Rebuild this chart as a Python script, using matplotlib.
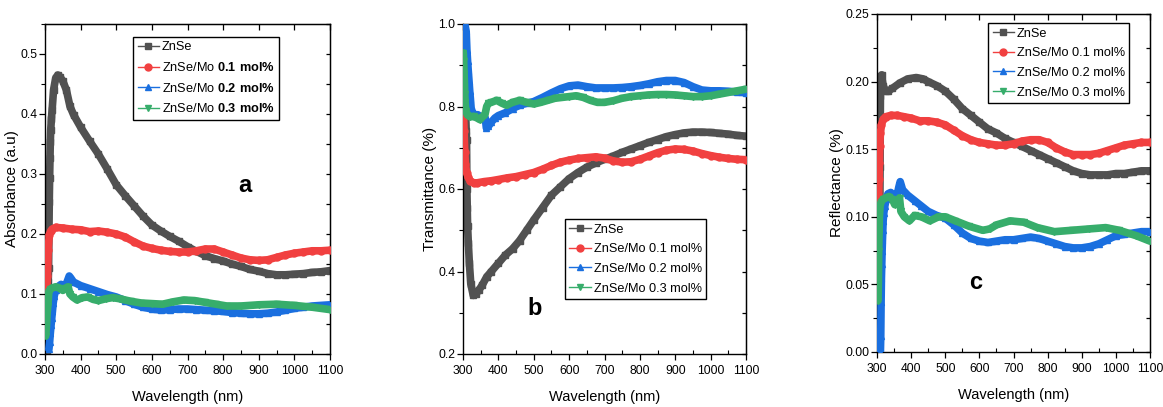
import matplotlib
matplotlib.use("Agg")
import matplotlib.pyplot as plt
from matplotlib.ticker import MultipleLocator, FormatStrFormatter

plt.rcParams['font.family'] = ['Liberation Sans', 'DejaVu Sans']
plt.rcParams['mathtext.fontset'] = 'custom'
plt.rcParams['mathtext.rm'] = 'Liberation Sans'
plt.rcParams['mathtext.bf'] = 'Liberation Sans:bold'

# ---------------- data ----------------
labels_a = ['ZnSe', r'ZnSe/Mo $\mathbf{0.1\ mol\%}$', r'ZnSe/Mo $\mathbf{0.2\ mol\%}$', r'ZnSe/Mo $\mathbf{0.3\ mol\%}$']
labels_bc = ['ZnSe', 'ZnSe/Mo 0.1 mol%', 'ZnSe/Mo 0.2 mol%', 'ZnSe/Mo 0.3 mol%']

# (a) Absorbance
znse_a_wl = [305, 309, 310, 312, 313, 314, 315, 316, 318, 320, 324, 330, 336, 342, 350, 360, 370, 380, 400, 425, 450, 475, 500, 525, 550, 575, 600, 625, 650, 675, 700, 725, 750, 775, 800, 825, 850, 875, 900, 925, 950, 975, 1000, 1025, 1050, 1075, 1100]
znse_a = [0.0, 0.12, 0.143, 0.254, 0.293, 0.327, 0.354, 0.373, 0.392, 0.407, 0.44, 0.46, 0.465, 0.462, 0.455, 0.44, 0.413, 0.399, 0.378, 0.355, 0.333, 0.308, 0.282, 0.264, 0.247, 0.23, 0.215, 0.205, 0.196, 0.188, 0.179, 0.171, 0.164, 0.159, 0.155, 0.15, 0.146, 0.141, 0.138, 0.134, 0.132, 0.132, 0.133, 0.134, 0.136, 0.137, 0.139]
mo1_a_wl = [301, 303, 305, 307, 309, 312, 316, 320, 330, 350, 375, 400, 425, 450, 475, 500, 525, 550, 575, 600, 625, 650, 675, 700, 725, 750, 775, 800, 825, 850, 875, 900, 925, 950, 975, 1000, 1025, 1050, 1075, 1100]
mo1_a = [0.046, 0.068, 0.107, 0.13, 0.174, 0.199, 0.205, 0.208, 0.211, 0.21, 0.208, 0.207, 0.204, 0.205, 0.203, 0.2, 0.195, 0.187, 0.18, 0.176, 0.173, 0.171, 0.17, 0.17, 0.172, 0.175, 0.175, 0.17, 0.165, 0.16, 0.157, 0.156, 0.157, 0.161, 0.165, 0.168, 0.17, 0.172, 0.172, 0.173]
mo2_a_wl = [311, 313, 315, 317, 319, 321, 323, 326, 330, 338, 345, 352, 360, 368, 372, 380, 400, 425, 450, 475, 500, 525, 550, 575, 600, 625, 650, 675, 700, 725, 750, 775, 800, 825, 850, 875, 900, 925, 950, 975, 1000, 1025, 1050, 1075, 1100]
mo2_a = [0.008, 0.02, 0.035, 0.048, 0.06, 0.072, 0.085, 0.097, 0.107, 0.113, 0.116, 0.114, 0.117, 0.13, 0.127, 0.12, 0.114, 0.109, 0.104, 0.099, 0.095, 0.089, 0.083, 0.078, 0.075, 0.073, 0.074, 0.075, 0.075, 0.074, 0.073, 0.072, 0.071, 0.069, 0.068, 0.067, 0.067, 0.068, 0.07, 0.073, 0.076, 0.078, 0.08, 0.081, 0.082]
mo3_a_wl = [302, 304, 306, 308, 311, 315, 320, 330, 340, 350, 358, 365, 370, 378, 390, 405, 420, 435, 450, 470, 490, 510, 540, 570, 600, 630, 660, 690, 720, 750, 780, 810, 850, 900, 950, 1000, 1050, 1100]
mo3_a = [0.03, 0.046, 0.068, 0.08, 0.105, 0.108, 0.11, 0.112, 0.11, 0.106, 0.11, 0.112, 0.1, 0.095, 0.09, 0.094, 0.095, 0.091, 0.089, 0.092, 0.094, 0.092, 0.088, 0.085, 0.084, 0.083, 0.087, 0.09, 0.089, 0.086, 0.083, 0.08, 0.08, 0.082, 0.083, 0.081, 0.078, 0.074]

# (b) Transmittance
znse_b_wl = [301, 304, 307, 309, 310, 311, 312, 313, 315, 318, 322, 329, 336, 345, 355, 367, 380, 400, 420, 440, 460, 480, 500, 525, 550, 575, 600, 625, 650, 675, 700, 725, 750, 775, 800, 825, 850, 875, 900, 925, 950, 975, 1000, 1025, 1050, 1075, 1100]
znse_b = [1.0, 0.9, 0.8, 0.74, 0.72, 0.6, 0.555, 0.51, 0.47, 0.42, 0.37, 0.342, 0.345, 0.355, 0.368, 0.387, 0.4, 0.42, 0.44, 0.455, 0.475, 0.5, 0.525, 0.555, 0.585, 0.605, 0.625, 0.64, 0.653, 0.663, 0.672, 0.68, 0.689, 0.697, 0.705, 0.713, 0.72, 0.727, 0.732, 0.736, 0.738, 0.738, 0.737, 0.735, 0.733, 0.73, 0.728]
mo1_b_wl = [301, 303, 305, 307, 310, 314, 320, 330, 340, 360, 380, 400, 425, 450, 475, 500, 525, 550, 575, 600, 625, 650, 675, 700, 725, 750, 775, 800, 825, 850, 875, 900, 925, 950, 975, 1000, 1025, 1050, 1075, 1100]
mo1_b = [0.8, 0.74, 0.69, 0.66, 0.64, 0.63, 0.62, 0.615, 0.615, 0.618, 0.62, 0.623, 0.627, 0.63, 0.635, 0.64, 0.648, 0.657, 0.665, 0.67, 0.674, 0.676, 0.678, 0.675, 0.668, 0.665, 0.666, 0.672, 0.68, 0.688, 0.694, 0.697, 0.696, 0.692, 0.686, 0.681, 0.677, 0.674, 0.672, 0.671]
mo2_b_wl = [305, 309, 311, 313, 315, 317, 319, 321, 323, 327, 334, 342, 350, 358, 363, 366, 372, 380, 390, 400, 420, 440, 460, 480, 500, 525, 550, 575, 600, 625, 650, 675, 700, 725, 750, 775, 800, 825, 850, 875, 900, 925, 950, 975, 1000, 1025, 1050, 1075, 1100]
mo2_b = [1.0, 0.982, 0.938, 0.91, 0.885, 0.862, 0.838, 0.818, 0.796, 0.785, 0.78, 0.78, 0.775, 0.773, 0.772, 0.748, 0.752, 0.762, 0.772, 0.778, 0.785, 0.795, 0.803, 0.808, 0.812, 0.822, 0.833, 0.843, 0.85, 0.852, 0.848, 0.845, 0.845, 0.845, 0.846, 0.848, 0.851, 0.855, 0.86, 0.863, 0.863, 0.858, 0.848, 0.84, 0.838, 0.838, 0.837, 0.835, 0.833]
mo3_b_wl = [301, 302, 303, 304, 305, 306, 308, 312, 320, 330, 340, 348, 355, 362, 367, 372, 380, 395, 410, 423, 440, 460, 480, 500, 520, 540, 560, 580, 600, 620, 640, 660, 680, 700, 725, 750, 775, 800, 825, 850, 875, 900, 925, 950, 975, 1000, 1025, 1050, 1075, 1100]
mo3_b = [0.93, 0.91, 0.88, 0.86, 0.83, 0.81, 0.79, 0.78, 0.775, 0.776, 0.772, 0.768, 0.775, 0.78, 0.8, 0.808, 0.81, 0.815, 0.808, 0.803, 0.81, 0.815, 0.81, 0.806, 0.81, 0.815, 0.82, 0.822, 0.824, 0.826, 0.822, 0.815, 0.81, 0.81, 0.814, 0.82, 0.824, 0.826, 0.828, 0.829, 0.829, 0.828, 0.826, 0.824, 0.824, 0.826, 0.83, 0.834, 0.838, 0.842]

# (c) Reflectance
znse_c_wl = [308, 309, 310, 311, 312, 314, 318, 325, 333, 345, 367, 390, 415, 435, 450, 475, 500, 525, 550, 575, 600, 625, 650, 675, 700, 725, 750, 775, 800, 825, 850, 875, 900, 925, 950, 975, 1000, 1025, 1050, 1075, 1100]
znse_c = [0.09, 0.137, 0.189, 0.198, 0.204, 0.205, 0.197, 0.193, 0.193, 0.195, 0.199, 0.202, 0.203, 0.202, 0.2, 0.197, 0.193, 0.187, 0.18, 0.175, 0.17, 0.165, 0.162, 0.158, 0.155, 0.152, 0.149, 0.146, 0.143, 0.14, 0.137, 0.134, 0.132, 0.131, 0.131, 0.131, 0.132, 0.132, 0.133, 0.134, 0.134]
mo1_c_wl = [303, 304, 305, 306, 307, 308, 310, 313, 318, 325, 340, 360, 380, 400, 425, 450, 475, 500, 525, 550, 575, 600, 625, 650, 675, 700, 725, 750, 775, 800, 825, 850, 875, 900, 925, 950, 975, 1000, 1025, 1050, 1075, 1100]
mo1_c = [0.07, 0.1, 0.115, 0.128, 0.14, 0.152, 0.162, 0.168, 0.172, 0.174, 0.175, 0.175, 0.174, 0.173, 0.171, 0.171, 0.17, 0.168, 0.164, 0.16, 0.157, 0.155, 0.154, 0.153, 0.153, 0.154, 0.156, 0.157, 0.157, 0.155, 0.151, 0.148, 0.146, 0.146, 0.146, 0.147, 0.149, 0.151, 0.153, 0.154, 0.155, 0.155]
mo2_c_wl = [310, 311, 312, 313, 314, 315, 316, 317, 318, 320, 323, 327, 332, 340, 350, 358, 364, 368, 375, 390, 410, 430, 450, 475, 500, 525, 550, 575, 600, 625, 650, 675, 700, 725, 750, 775, 800, 825, 850, 875, 900, 925, 950, 975, 1000, 1025, 1050, 1075, 1100]
mo2_c = [0.0, 0.012, 0.037, 0.055, 0.065, 0.075, 0.083, 0.09, 0.097, 0.103, 0.108, 0.113, 0.117, 0.118, 0.116, 0.115, 0.122, 0.126, 0.12, 0.116, 0.112, 0.108, 0.104, 0.101, 0.099, 0.094, 0.088, 0.084, 0.082, 0.081, 0.082, 0.083, 0.083, 0.084, 0.085, 0.084, 0.082, 0.08, 0.078, 0.077, 0.077, 0.078, 0.08, 0.083, 0.086, 0.087, 0.088, 0.089, 0.089]
mo3_c_wl = [303, 304, 305, 306, 307, 309, 312, 318, 325, 335, 345, 352, 360, 366, 370, 380, 395, 410, 430, 455, 480, 500, 530, 570, 610, 630, 650, 690, 730, 770, 820, 870, 920, 970, 1010, 1060, 1100]
mo3_c = [0.038, 0.052, 0.075, 0.088, 0.1, 0.108, 0.111, 0.113, 0.114, 0.115, 0.113, 0.109, 0.112, 0.114, 0.104, 0.1, 0.097, 0.101, 0.1, 0.097, 0.1, 0.1, 0.097, 0.093, 0.09, 0.091, 0.094, 0.097, 0.096, 0.092, 0.089, 0.09, 0.091, 0.092, 0.09, 0.086, 0.082]

colors = ['#515151', '#F14040', '#1A6FDF', '#37AD6B']
markers = ['s', 'o', '^', 'v']

# ---------------- figure ----------------
fig = plt.figure(figsize=(11.63, 4.07), dpi=100)
W, H = 1163, 407

def make_ax(l, r, t, b):
    return fig.add_axes([l / W, 1 - b / H, (r - l) / W, (b - t) / H])

ax_a = make_ax(45, 330, 24, 354)
ax_b = make_ax(463, 746, 24, 354)
ax_c = make_ax(877, 1150, 14, 352)

def draw(ax, series, labels):
    for i, (wl, v) in enumerate(series):
        ax.plot(wl, v, color=colors[i], lw=5.5, solid_capstyle='round',
                solid_joinstyle='round', zorder=2 + i)
        ax.plot(wl, v, color=colors[i], lw=1, marker=markers[i], ms=5,
                label=labels[i], zorder=2 + i)

def style(ax, ylim, ymaj, ymin, yfmt, ylabel):
    ax.set_xlim(300, 1100)
    ax.set_ylim(*ylim)
    ax.xaxis.set_major_locator(MultipleLocator(100))
    ax.xaxis.set_minor_locator(MultipleLocator(50))
    ax.yaxis.set_major_locator(MultipleLocator(ymaj))
    ax.yaxis.set_minor_locator(MultipleLocator(ymin))
    ax.yaxis.set_major_formatter(FormatStrFormatter(yfmt))
    ax.tick_params(axis='both', which='major', direction='out', length=4, width=0.9,
                   labelsize=8.7)
    ax.tick_params(axis='x', which='major', pad=4)
    ax.tick_params(axis='y', which='major', pad=1.5)
    ax.tick_params(axis='x', which='minor', direction='in', length=3, width=0.8)
    ax.tick_params(axis='y', which='minor', direction='out', length=3, width=0.8)
    for s in ax.spines.values():
        s.set_linewidth(1.0)
    sx = ax.secondary_xaxis('top')
    sx.xaxis.set_major_locator(MultipleLocator(100))
    sx.tick_params(direction='in', length=4, width=0.9, labeltop=False)
    sy = ax.secondary_yaxis('right')
    sy.yaxis.set_major_locator(MultipleLocator(ymin))
    sy.tick_params(direction='in', length=3, width=0.9, labelright=False)
    ax.set_xlabel('Wavelength (nm)', fontsize=10.5, labelpad=9)
    ax.set_ylabel(ylabel, fontsize=11, labelpad=1)

draw(ax_a, [(znse_a_wl, znse_a), (mo1_a_wl, mo1_a), (mo2_a_wl, mo2_a), (mo3_a_wl, mo3_a)], labels_a)
draw(ax_b, [(znse_b_wl, znse_b), (mo1_b_wl, mo1_b), (mo2_b_wl, mo2_b), (mo3_b_wl, mo3_b)], labels_bc)
draw(ax_c, [(znse_c_wl, znse_c), (mo1_c_wl, mo1_c), (mo2_c_wl, mo2_c), (mo3_c_wl, mo3_c)], labels_bc)

style(ax_a, (0, 0.55), 0.1, 0.05, '%.1f', 'Absorbance (a.u)')
style(ax_b, (0.2, 1.0), 0.2, 0.1, '%.1f', 'Transmittance (%)')
style(ax_c, (0, 0.25), 0.05, 0.025, '%.2f', 'Reflectance (%)')

leg_kw = dict(loc='upper left', borderaxespad=0, fancybox=False, edgecolor='black',
              fontsize=9.2, handlelength=1.7, handletextpad=0.2, borderpad=0.35,
              labelspacing=0.6, framealpha=1)
for ax, anchor in [(ax_a, (0.309, 0.961)), (ax_b, (0.360, 0.409)), (ax_c, (0.407, 0.973))]:
    lg = ax.legend(bbox_to_anchor=anchor, **leg_kw)
    lg.get_frame().set_linewidth(1.0)
    lg.set_zorder(20)

for ax, letter, pos in [(ax_a, 'a', (0.70, 0.512)), (ax_b, 'b', (0.254, 0.139)), (ax_c, 'c', (0.36, 0.207))]:
    ax.text(pos[0], pos[1], letter, transform=ax.transAxes, fontsize=17,
            fontweight='bold', ha='center', va='center')

fig.savefig('out.png', dpi=100)
